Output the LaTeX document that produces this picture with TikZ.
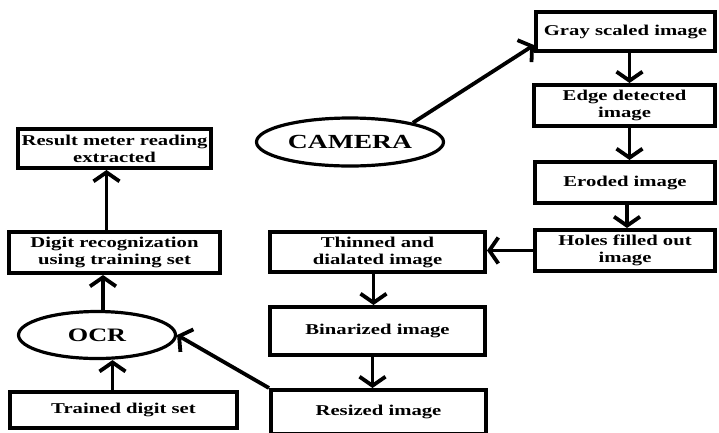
\documentclass[tikz,border=0pt]{standalone}
\usepackage{fontspec}
\setmainfont{Liberation Serif}[FakeStretch=1.38]
\usetikzlibrary{arrows.meta,shapes.geometric}

\tikzset{
  stepbox/.style={draw, line width=4pt, inner sep=0pt, align=center,
    font=\fontsize{15}{17}\selectfont\bfseries},
  oval/.style={draw, ellipse, line width=3.2pt, inner sep=0pt},
  arr/.style={line width=3.8pt, -{Straight Barb[length=9pt,width=26pt]}}
}

\begin{document}
\begin{tikzpicture}[x=1pt,y=-1pt]

    % Page size of the reference
    \useasboundingbox (0,0) rectangle (719,432);

    % Camera and the right hand column of steps
    \node[oval, minimum width=187pt, minimum height=48pt,
          font=\fontsize{20}{22}\selectfont\bfseries] (camera) at (350,142) {CAMERA};
    \node[stepbox, minimum width=179pt, minimum height=39pt] (gray) at (625.5,31.5) {Gray scaled image};
    \node[stepbox, minimum width=181pt, minimum height=41pt] (edge) at (624.5,105.5) {Edge detected\\image};
    \node[stepbox, minimum width=180pt, minimum height=41pt] (eroded) at (625,182.5) {Eroded image};
    \node[stepbox, minimum width=180pt, minimum height=41pt] (holes) at (625,250.5) {Holes filled out\\image};

    % Middle column
    \node[stepbox, minimum width=215pt, minimum height=40pt] (thinned) at (377.5,252) {Thinned and\\dialated image};
    \node[stepbox, minimum width=215pt, minimum height=48pt] (binarized) at (377.5,331) {Binarized image};
    \node[stepbox, minimum width=215pt, minimum height=44pt] (resized) at (378.5,412) {Resized image};

    % Left column with the OCR
    \node[stepbox, minimum width=193pt, minimum height=39pt] (result) at (114.5,148.5) {Result meter reading\\extracted};
    \node[stepbox, minimum width=211pt, minimum height=41pt] (digit) at (114.5,252.5) {Digit recognization\\using training set};
    \node[oval, minimum width=157pt, minimum height=47pt,
          font=\fontsize{19}{21}\selectfont\bfseries] (ocr) at (97,335) {OCR};
    \node[stepbox, minimum width=227pt, minimum height=36pt] (trained) at (123.5,410) {Trained digit set};

    % Arrows down the right column
    \draw[arr] (camera.17) -- ([yshift=8pt]gray.south west);
    \draw[arr] ([xshift=4pt]gray.south) -- ([xshift=4pt]gray.south |- edge.north);
    \draw[arr] ([xshift=5pt]edge.south) -- ([xshift=5pt]edge.south |- eroded.north);
    \draw[arr] ([xshift=2pt]eroded.south) -- ([xshift=2pt]eroded.south |- holes.north);
    \draw[arr] (holes.west) -- (holes.west -| thinned.east);

    % Arrows down the middle column
    \draw[arr] ([xshift=-4pt]thinned.south) -- ([xshift=-4pt]thinned.south |- binarized.north);
    \draw[arr] ([xshift=-5pt]binarized.south) -- ([xshift=-5pt]binarized.south |- resized.north);
    \draw[arr] (resized.north west) -- (ocr.east);

    % Arrows up the left column
    \draw[arr] ([xshift=-11pt]trained.north) -- ([xshift=-11pt]trained.north |- ocr.south);
    \draw[arr] ([xshift=6pt]ocr.north) -- ([xshift=6pt]ocr.north |- digit.south);
    \draw[arr] ([xshift=-8pt]digit.north) -- ([xshift=-8pt]digit.north |- result.south);

\end{tikzpicture}
\end{document}
